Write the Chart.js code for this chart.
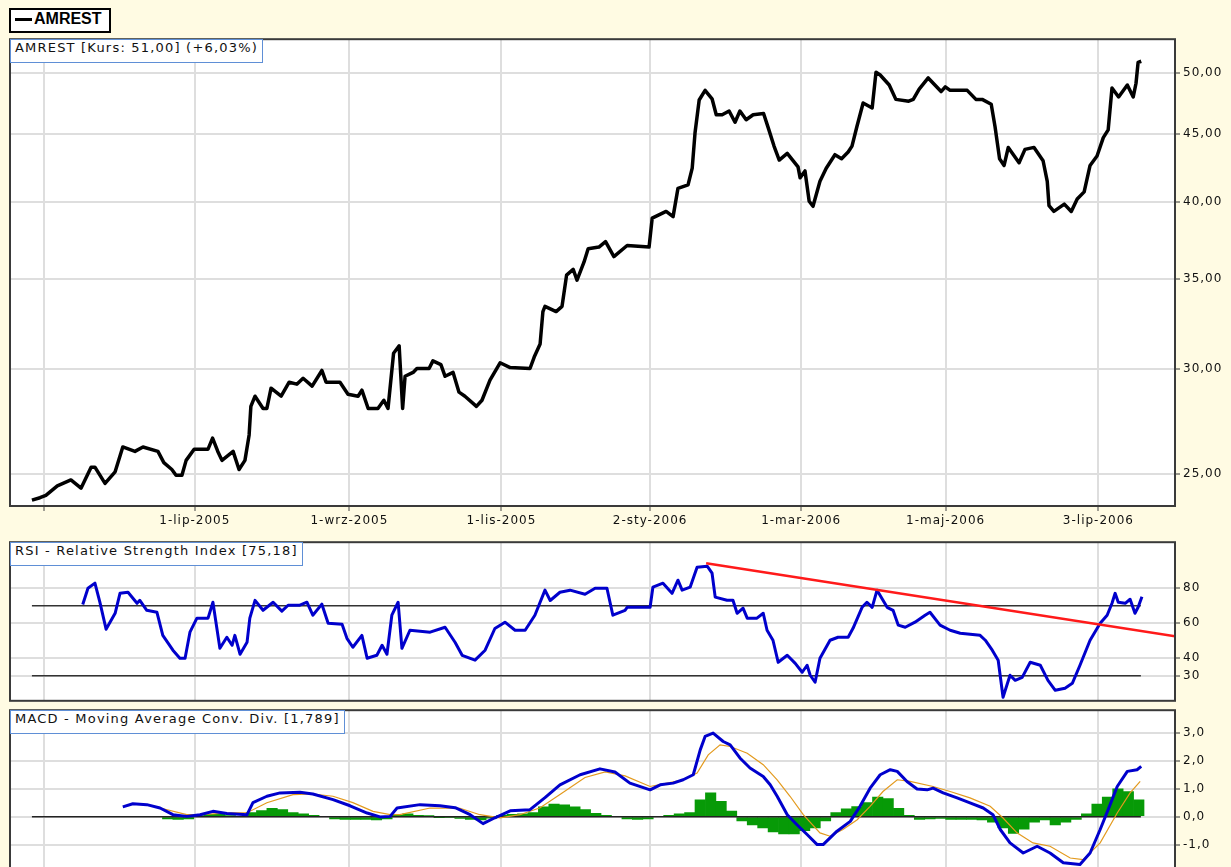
<!DOCTYPE html>
<html>
<head>
<meta charset="utf-8">
<script src="https://cdn.jsdelivr.net/npm/chart.js@4.4.1/dist/chart.umd.min.js"></script>
<style>
  html, body { margin: 0; padding: 0; background: #fffbe3; width: 1231px; height: 867px; overflow: hidden; }
  canvas { position: absolute; left: 0; }
  .tag {
    position: absolute; left: 10px; height: 22px; line-height: 22px; padding: 0 4px;
    background: #fff; border: 1px solid #5f8fd6; color: #111;
    font: 13px "DejaVu Sans", sans-serif; letter-spacing: 1.2px; white-space: nowrap;
  }
  #legend {
    position: absolute; left: 9px; top: 8px; width: 98px; height: 21px; line-height: 21px;
    background: #fff; border: 2px solid #000; color: #000;
    font: bold 16px "Liberation Sans", Arial, sans-serif; white-space: nowrap;
  }
  #legend span { display: inline-block; width: 17px; height: 3px; background: #000; margin: 0 2px 0 4px; vertical-align: middle; }
</style>
</head>
<body>
<div id="legend"><span></span>AMREST</div>

<canvas id="priceChart" width="1231" height="507" style="top:29px"></canvas>
<canvas id="rsiChart" width="1231" height="179" style="top:532px"></canvas>
<canvas id="macdChart" width="1231" height="190" style="top:700px"></canvas>

<div class="tag" style="top:39px">AMREST [Kurs: 51,00] (+6,03%)</div>
<div class="tag" style="top:542px">RSI - Relative Strength Index [75,18]</div>
<div class="tag" style="top:710px">MACD - Moving Average Conv. Div. [1,789]</div>

<script>
// x unit = trading day counted from the first session shown
const dateTickDays = [3.5, 46.8, 91.2, 134.9, 177.6, 221.0, 262.5, 306.4];
const dateTickLabels = ['', '1-lip-2005', '1-wrz-2005', '1-lis-2005', '2-sty-2006', '1-mar-2006', '1-maj-2006', '3-lip-2006'];

const priceTicks = [25, 30, 35, 40, 45, 50];
const rsiTicks = [30, 40, 60, 80];
const macdTicks = [-2, -1, 0, 1, 2, 3];

const priceDays = [0, 2.3, 4.0, 7.3, 11.2, 14.1, 17.0, 18.1, 21.0, 23.9,
  26.1, 29.6, 31.9, 36.2, 37.9, 40.2, 41.4, 43.1, 44.3, 46.6,
  50.6, 51.9, 53.4, 54.6, 57.8, 59.5, 61.2, 62.4, 62.9, 64.1,
  66.4, 67.5, 68.7, 71.6, 73.9, 76.1, 77.9, 80.5, 83.3, 84.5,
  88.5, 90.8, 93.7, 94.8, 96.6, 99.4, 101.1, 102.3, 103.9, 105.5,
  106.5, 107.2, 109.5, 110.6, 114.1, 115.2, 117.5, 118.7, 121.0, 122.7,
  124.4, 127.7, 129.3, 131.6, 134.5, 137.4, 143.1, 144.3, 146.0, 146.8,
  147.4, 150.6, 152.3, 153.6, 155.5, 156.6, 158.6, 159.8, 162.9, 164.8,
  167.2, 171.0, 177.3, 178.2, 182.2, 184.2, 185.6, 188.5, 189.7, 190.5,
  191.7, 193.4, 195.4, 196.6, 198.3, 200.3, 202.0, 203.4, 205.2, 207.2,
  210.2, 211.5, 213.2, 214.7, 217.0, 220.1, 220.7, 222.1, 223.3, 224.4,
  226.4, 228.2, 230.7, 232.6, 234.5, 235.6, 237.0, 238.8, 241.4, 242.5,
  243.7, 246.3, 248.2, 251.9, 253.2, 254.9, 257.5, 261.2, 262.4, 263.8,
  268.7, 271.2, 273.0, 275.6, 276.7, 278.0, 279.3, 280.5, 283.6, 285.3,
  287.9, 290.5, 291.7, 292.2, 293.6, 296.6, 298.6, 300.3, 302.3, 304.0,
  306.0, 307.8, 309.2, 310.3, 312.2, 314.7, 316.4, 317.2, 317.8, 318.7];
const priceValues = [23.9, 24.0, 24.1, 24.5, 24.75, 24.4, 25.3, 25.3, 24.6, 25.1,
  26.2, 26.0, 26.2, 26.0, 25.5, 25.2, 24.95, 24.95, 25.6, 26.1,
  26.1, 26.6, 26.0, 25.6, 26.0, 25.2, 25.6, 26.75, 28.1, 28.6,
  28.0, 28.0, 29.0, 28.6, 29.3, 29.2, 29.5, 29.1, 29.9, 29.3,
  29.3, 28.7, 28.6, 28.9, 28.0, 28.0, 28.4, 28.0, 30.8, 31.2,
  28.0, 29.6, 29.8, 30.0, 30.0, 30.4, 30.2, 29.6, 29.8, 28.8,
  28.6, 28.1, 28.4, 29.4, 30.3, 30.05, 30.0, 30.6, 31.3, 33.1,
  33.4, 33.1, 33.4, 35.25, 35.6, 34.95, 36.05, 36.9, 37.0, 37.35,
  36.4, 37.1, 37.0, 38.9, 39.35, 39.0, 40.95, 41.2, 42.4, 45.05,
  47.7, 48.5, 47.8, 46.5, 46.5, 46.8, 45.9, 46.8, 46.1, 46.5,
  46.6, 45.5, 44.05, 43.0, 43.5, 42.5, 41.7, 42.2, 40.05, 39.7,
  41.45, 42.4, 43.4, 43.1, 43.6, 44.05, 45.55, 47.45, 47.05, 50.05,
  49.8, 48.95, 47.75, 47.6, 47.75, 48.6, 49.55, 48.4, 48.8, 48.5,
  48.5, 47.75, 47.75, 47.35, 45.55, 43.1, 42.6, 43.95, 42.8, 43.8,
  43.95, 42.95, 41.45, 39.75, 39.35, 39.85, 39.35, 40.2, 40.7, 42.6,
  43.3, 44.7, 45.3, 48.7, 47.95, 48.95, 47.95, 49.1, 50.9, 51.0];

const rsiDays = [14.6, 16.1, 18.1, 19.5, 21.3, 23.9, 25.3, 27.6, 30.2, 31.0,
  33.0, 35.9, 37.6, 40.5, 42.5, 44.0, 45.4, 47.4, 50.6, 52.0,
  54.0, 56.0, 57.5, 58.3, 59.8, 61.8, 62.6, 64.1, 66.4, 69.3,
  71.8, 73.6, 77.0, 79.0, 80.7, 83.3, 85.1, 89.1, 90.5, 92.2,
  94.8, 96.3, 99.1, 100.6, 102.0, 103.4, 105.2, 106.3, 108.6, 114.4,
  118.7, 121.6, 123.6, 127.3, 130.2, 133.0, 135.9, 138.8, 141.7, 144.5,
  147.4, 148.9, 151.7, 154.6, 158.9, 161.8, 165.2, 166.9, 170.4, 171.0,
  177.6, 178.4, 181.3, 183.9, 185.6, 186.8, 189.1, 191.1, 194.0, 195.4,
  196.3, 199.7, 201.4, 202.6, 204.3, 205.5, 208.3, 210.1, 211.2, 212.9,
  214.4, 217.0, 219.3, 221.3, 222.7, 223.6, 225.0, 226.4, 229.3, 231.6,
  234.5, 235.9, 238.5, 239.9, 241.4, 242.8, 245.7, 247.4, 248.9, 250.9,
  253.7, 256.6, 258.0, 260.9, 263.8, 266.7, 272.4, 273.9, 275.9, 277.6,
  279.0, 281.0, 282.5, 284.5, 286.8, 289.7, 291.9, 294.0, 296.8, 298.9,
  301.1, 304.0, 306.9, 308.9, 310.3, 311.2, 312.1, 314.1, 315.5, 316.4,
  316.9, 317.8, 318.9];
const rsiValues = [70.7, 80, 82.9, 72.2, 56.6, 65.7, 77.1, 77.7, 71.4, 73.1,
  67.4, 66.3, 53.1, 44.6, 40, 40, 54.9, 62.9, 62.9, 72,
  45.7, 52, 47.4, 53.1, 42.3, 49.1, 62.9, 73.1, 67.4, 72,
  66.9, 70.3, 70.3, 72, 64.6, 70.9, 60, 59.4, 51.4, 46.3,
  53.1, 40, 41.7, 47.4, 42.3, 64.6, 72, 45.7, 56, 54.9,
  57.7, 49, 41.7, 38.9, 44.6, 57, 60.6, 56, 56, 64.6,
  78.9, 73, 77.7, 78.9, 76.6, 80, 80, 64.6, 67.4, 69.1,
  69.1, 80.6, 82.9, 77.1, 84.6, 78.9, 80.6, 92, 92.6, 88.6,
  74.9, 73.1, 73.1, 65.7, 68.6, 62.9, 62.9, 65.7, 56, 50.3,
  37.7, 41.7, 37.1, 32, 36, 30.3, 26.3, 40, 50.3, 52,
  52, 57.1, 69.1, 72, 69.1, 78.9, 69.1, 67.4, 58.9, 57.7,
  60.6, 64.6, 66.3, 58.9, 56, 54.3, 53.1, 50.3, 44.6, 38.9,
  17.7, 30.3, 27.4, 29.1, 37.7, 36, 27.4, 21.7, 22.9, 25.7,
  36, 50.3, 60, 64.6, 71.4, 77.1, 72, 71.4, 73.7, 68.6,
  65.7, 69.1, 75.2];

// RSI guide levels and the hand-drawn trend line
const rsiLevels = [70, 30];
const levelSpan = [0, 318.6];
const trendDays = [193.7, 328.4];
const trendValues = [94.3, 52.6];

const macdDays = [26.1, 29.0, 33.0, 36.8, 40.5, 44.5, 48.3, 52.0, 56.0, 61.8,
  63.5, 67.5, 71.3, 77.0, 80.7, 86.5, 91.4, 96.3, 100.0, 102.9,
  104.9, 111.5, 117.2, 121.6, 125.9, 129.6, 133.0, 137.4, 143.1, 147.4,
  151.7, 157.5, 163.2, 167.5, 171.8, 177.6, 180.5, 184.2, 187.1, 190.0,
  192.0, 193.4, 195.7, 198.6, 200.6, 203.4, 206.3, 210.1, 212.1, 214.1,
  217.0, 219.8, 222.7, 225.6, 227.3, 231.3, 235.1, 237.9, 240.8, 243.7,
  246.6, 248.6, 251.4, 254.3, 257.2, 258.9, 261.8, 265.8, 269.5, 273.3,
  276.1, 278.2, 281.0, 284.8, 288.8, 292.5, 296.3, 301.1, 304.0, 306.9,
  309.2, 311.8, 314.7, 317.5, 318.7];
const macdValues = [0.35, 0.46, 0.43, 0.31, 0.07, 0.01, 0.07, 0.19, 0.11, 0.07,
  0.5, 0.73, 0.85, 0.87, 0.81, 0.61, 0.39, 0.13, -0.01, 0.01,
  0.31, 0.43, 0.39, 0.32, 0.07, -0.25, -0.04, 0.21, 0.25, 0.68,
  1.14, 1.5, 1.71, 1.6, 1.2, 0.96, 1.14, 1.2, 1.32, 1.5,
  2.39, 2.87, 2.99, 2.69, 2.57, 2.1, 1.74, 1.44, 1.14, 0.73,
  0.07, -0.29, -0.64, -1.0, -1.0, -0.52, -0.17, 0.37, 1.02, 1.5,
  1.68, 1.62, 1.26, 0.99, 0.96, 1.02, 0.85, 0.67, 0.49, 0.31,
  0.07, -0.46, -0.94, -1.3, -1.06, -1.3, -1.65, -1.71, -1.3, -0.46,
  0.25, 1.08, 1.62, 1.68, 1.8];

const signalDays = [33.9, 44.5, 48.3, 57.8, 61.8, 67.5, 75.0, 80.7, 86.5, 92.2,
  98.0, 102.9, 105.7, 114.4, 123.0, 128.7, 134.5, 140.2, 146.0, 151.7,
  158.9, 164.7, 170.4, 177.6, 187.1, 191.1, 194.3, 197.7, 200.6, 205.5,
  210.1, 214.1, 217.8, 221.6, 226.4, 229.3, 233.0, 237.1, 240.8, 244.5,
  248.6, 252.3, 258.9, 263.8, 269.5, 275.3, 279.0, 283.0, 287.6, 292.5,
  298.3, 302.0, 306.9, 311.8, 315.5, 318.4];
const signalValues = [0.4, 0.07, 0.07, 0.14, 0.14, 0.5, 0.79, 0.81, 0.73, 0.5,
  0.19, 0.07, 0.07, 0.31, 0.3, 0.07, -0.04, 0.07, 0.32, 0.79,
  1.4, 1.6, 1.46, 1.08, 1.32, 1.56, 2.21, 2.57, 2.51, 2.27,
  1.86, 1.32, 0.73, 0.07, -0.58, -0.7, -0.46, -0.11, 0.37, 0.9,
  1.32, 1.26, 1.08, 0.9, 0.67, 0.37, -0.05, -0.58, -0.94, -1.06,
  -1.48, -1.54, -0.94, 0.13, 0.85, 1.26];

const histDays = [39, 42, 45, 48, 51, 54, 57, 60, 63, 66, 69, 72, 75, 78, 81, 84, 87, 90, 93, 96,
  99, 102, 105, 108, 111, 114, 117, 120, 123, 126, 129, 132, 135, 138, 141, 144, 147, 150, 153, 156,
  159, 162, 165, 168, 171, 174, 177, 180, 183, 186, 189, 192, 195, 198, 201, 204, 207, 210, 213, 216,
  219, 222, 225, 228, 231, 234, 237, 240, 243, 246, 249, 252, 255, 258, 261, 264, 267, 270, 273, 276,
  279, 282, 285, 288, 291, 294, 297, 300, 303, 306, 309, 312, 315, 318];
const histValues = [-0.08, -0.1, -0.08, 0.03, 0.08, 0.08, 0.03, 0, 0.15, 0.22, 0.3, 0.25, 0.15, 0.1, 0.05, 0, -0.08, -0.1, -0.1, -0.1,
  -0.12, -0.08, 0.05, 0.1, 0.05, 0.02, -0.02, -0.04, -0.06, -0.1, -0.12, -0.05, 0.05, 0.08, 0.1, 0.15, 0.35, 0.45, 0.42, 0.35,
  0.25, 0.12, 0.05, 0, -0.08, -0.1, -0.08, 0, 0.05, 0.1, 0.15, 0.6, 0.85, 0.55, 0.2, -0.15, -0.3, -0.4, -0.55, -0.62,
  -0.62, -0.5, -0.4, -0.15, 0.15, 0.28, 0.36, 0.5, 0.7, 0.65, 0.3, 0.05, -0.1, -0.08, -0.06, -0.1, -0.1, -0.1, -0.12, -0.2,
  -0.4, -0.6, -0.45, -0.2, -0.12, -0.3, -0.2, -0.1, 0.1, 0.45, 0.7, 1.0, 0.9, 0.6];

const TICK_FONT = { family: 'DejaVu Sans', size: 12 };
const GRID = '#dedede';

function points(days, values) {
  return days.map((d, i) => ({ x: d, y: values[i] }));
}

function comma(v, digits) {
  return v.toFixed(digits).replace('.', ',');
}

// white plot area + dark frame around it, spaced digits like the original
const framePlugin = {
  id: 'frame',
  beforeDraw(chart) {
    const { ctx, chartArea: a } = chart;
    ctx.letterSpacing = '1px';
    ctx.save();
    ctx.fillStyle = '#fff';
    ctx.fillRect(a.left, a.top, a.right - a.left, a.bottom - a.top);
    ctx.restore();
  },
  afterDraw(chart) {
    const { ctx, chartArea: a } = chart;
    ctx.save();
    ctx.strokeStyle = '#3a3a3a';
    ctx.lineWidth = 2;
    ctx.strokeRect(a.left, a.top, a.right - a.left, a.bottom - a.top);
    ctx.restore();
  }
};

function dateAxis(showLabels) {
  return {
    type: 'linear',
    min: -6.3,
    max: 328.4,
    offset: false,
    afterBuildTicks: scale => { scale.ticks = dateTickDays.map(v => ({ value: v })); },
    afterFit: scale => { scale.height = showLabels ? 30 : 0; },
    border: { display: false },
    grid: { color: GRID, lineWidth: 2, offset: false, drawTicks: showLabels, tickLength: 5, tickColor: '#444', tickWidth: 1 },
    ticks: {
      display: showLabels, autoSkip: false, maxRotation: 0, padding: 3,
      color: '#111', font: TICK_FONT,
      callback: (v, i) => dateTickLabels[i]
    }
  };
}

function valueAxis(extra, tickValues, fmt) {
  return Object.assign({
    position: 'right',
    afterFit: scale => { scale.width = 56; },
    afterBuildTicks: scale => { scale.ticks = tickValues.map(v => ({ value: v })); },
    border: { display: false },
    grid: { color: GRID, lineWidth: 2, drawTicks: true, tickLength: 5, tickColor: '#333', tickWidth: 1 },
    ticks: { padding: 3, color: '#111', font: TICK_FONT, autoSkip: false, callback: fmt }
  }, extra);
}

function baseOptions(xAxis, yAxis) {
  return {
    responsive: false,
    animation: false,
    layout: { padding: { top: 10, left: 10, right: 0, bottom: xAxis.ticks.display ? 0 : 10 } },
    plugins: { legend: { display: false }, tooltip: { enabled: false } },
    elements: { point: { radius: 0 }, line: { tension: 0 } },
    scales: { x: xAxis, y: yAxis }
  };
}

new Chart(document.getElementById('priceChart'), {
  type: 'line',
  data: {
    datasets: [{
      data: points(priceDays, priceValues),
      borderColor: '#000', borderWidth: 3.5, borderJoinStyle: 'round'
    }]
  },
  options: baseOptions(
    dateAxis(true),
    valueAxis({ type: 'logarithmic', min: 23.66, max: 52.98 }, priceTicks, v => comma(v, 2))
  ),
  plugins: [framePlugin]
});

new Chart(document.getElementById('rsiChart'), {
  type: 'line',
  data: {
    datasets: [
      { data: points(trendDays, trendValues), borderColor: '#ff1a1a', borderWidth: 2.5 },
      { data: points(rsiDays, rsiValues), borderColor: '#0000cc', borderWidth: 3, borderJoinStyle: 'round' },
      ...rsiLevels.map(lv => ({
        data: points(levelSpan, levelSpan.map(() => lv)), borderColor: '#333', borderWidth: 1.5
      }))
    ]
  },
  options: baseOptions(
    dateAxis(false),
    valueAxis({ type: 'linear', min: 15.7, max: 106.3 }, rsiTicks, v => String(v))
  ),
  plugins: [framePlugin]
});

new Chart(document.getElementById('macdChart'), {
  type: 'line',
  data: {
    datasets: [
      { data: points(macdDays, macdValues), borderColor: '#0000cc', borderWidth: 3, borderJoinStyle: 'round' },
      { data: points(signalDays, signalValues), borderColor: '#e39a1e', borderWidth: 1.2 },
      { data: points(levelSpan, [0, 0]), borderColor: '#222', borderWidth: 1.5 },
      {
        type: 'bar',
        data: points(histDays, histValues),
        backgroundColor: '#079a07',
        borderWidth: 0,
        barPercentage: 1,
        categoryPercentage: 1
      }
    ]
  },
  options: baseOptions(
    dateAxis(false),
    valueAxis({ type: 'linear', min: -2.26, max: 3.81 }, macdTicks, v => comma(v, 1))
  ),
  plugins: [framePlugin]
});
</script>
</body>
</html>
